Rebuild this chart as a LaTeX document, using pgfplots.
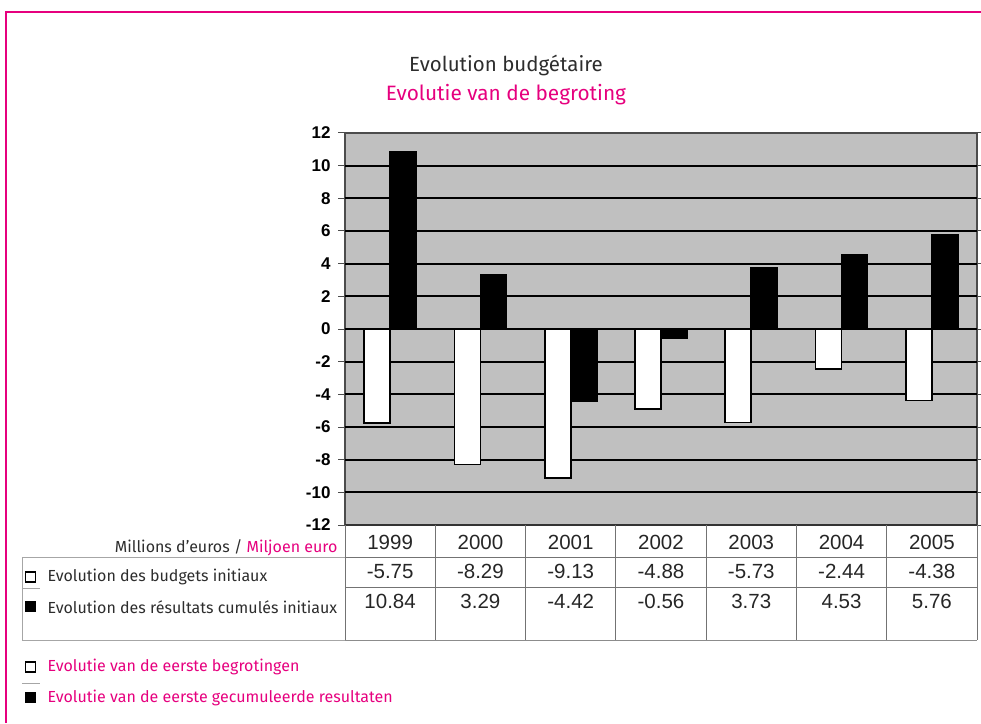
\documentclass[border=0pt]{standalone}
\usepackage{pgfplots}
\usepackage{pgfplotstable}
\usepackage{fontspec}
\pgfplotsset{compat=1.18}
\setmainfont{Fira Sans}
\newfontfamily\arialf{Liberation Sans}
\definecolor{mag}{RGB}{230,0,126}
\definecolor{plotbg}{RGB}{192,192,192}
\definecolor{txt}{RGB}{45,45,45}
\pgfplotstableread{
x a b
0 -5.75 10.84
1 -8.29 3.29
2 -9.13 -4.42
3 -4.88 -0.56
4 -5.73 3.73
5 -2.44 4.53
6 -4.38 5.76
}\budget
\begin{document}
\begin{tikzpicture}[x=1pt,y=1pt]
\begin{axis}[
  name=ax,
  scale only axis, width=632pt, height=392pt,
  xmin=-0.5, xmax=6.5, ymin=-12, ymax=12,
  ytick={-12,-10,...,12},
  xtick={0,...,6},
  xticklabels={1999,2000,2001,2002,2003,2004,2005},
  xticklabel style={font=\arialf\fontsize{20.5}{21}\selectfont, text=black!85, yshift=0pt},
  x tick style={draw=none},
  yticklabel style={font=\arialf\bfseries\fontsize{17}{18}\selectfont, text=black, xshift=-4pt},
  /pgf/number format/assume math mode=true,
  y tick style={draw=black!70, line width=1pt},
  tick align=outside, major tick length=7pt,
  axis background/.style={fill=plotbg},
  axis line style={draw=black!70, line width=1.5pt},
  grid=none,
  clip=false,
]
\coordinate (SW) at (rel axis cs:0,0);
% grid lines
\pgfplotsinvokeforeach{-10,-8,...,10}{
  \draw[black, line width=2pt] (axis cs:-0.5,#1) -- (axis cs:6.5,#1);
}
\draw[black!80, line width=2pt] (axis cs:-0.5,-12) -- (axis cs:6.5,-12);
\draw[black!70, line width=2pt] (axis cs:-0.5,12) -- (axis cs:6.5,12);
\addplot[ybar, bar width=26pt, bar shift=-13pt, fill=white, draw=black, line width=1.8pt] table[x=x, y=a] {\budget};
\addplot[ybar, bar width=26pt, bar shift=13pt, fill=black, draw=black, line width=1.8pt] table[x=x, y=b] {\budget};
% table
\draw[black!55, line width=0.8pt] (axis cs:-0.5,-13.96) -- (axis cs:6.5,-13.96);
\draw[black!55, line width=0.8pt] (axis cs:-0.5,-15.8) -- (axis cs:6.5,-15.8);
\draw[black!45, line width=0.8pt] (axis cs:-0.5,-19.04) -- (axis cs:6.5,-19.04);
\pgfplotsinvokeforeach{-0.5,0.5,...,6.5}{
  \draw[black!55, line width=0.8pt] (axis cs:#1,-12) -- (axis cs:#1,-19.04);
}
\addplot[draw=none, mark=none, forget plot, nodes near coords, point meta=explicit symbolic,
  every node near coord/.style={anchor=center, font=\arialf\fontsize{20.5}{21}\selectfont, text=black!85}]
  table[x=x, y expr=-14.85, meta=a] {\budget};
\addplot[draw=none, mark=none, forget plot, nodes near coords, point meta=explicit symbolic,
  every node near coord/.style={anchor=center, font=\arialf\fontsize{20.5}{21}\selectfont, text=black!85}]
  table[x=x, y expr=-16.65, meta=b] {\budget};
\end{axis}
\begin{scope}[shift={(SW)}, xshift=-345pt, yshift=-198pt]
\pgfresetboundingbox
\path[use as bounding box] (0,0) rectangle (981,723);
% frame
\draw[mag, line width=2pt] (6,0) -- (6,711) -- (981,711);
% titles
\node[txt, font=\fontsize{20.5}{22}\selectfont] at (506,658) {Evolution budgétaire};
\node[mag, font=\fontsize{20.8}{22}\selectfont] at (506,628) {Evolutie van de begroting};
% left table part
\draw[black!35, line width=0.8pt] (22,166) -- (345,166);
\draw[black!35, line width=0.8pt] (22,166) -- (22,83);
\draw[black!35, line width=0.8pt] (22,135) -- (40,135);
\draw[black!35, line width=0.8pt] (22,83) -- (345,83);
\node[anchor=east, txt, font=\fontsize{16}{17}\selectfont] at (341,175) {Millions d’euros / \textcolor{mag}{Miljoen euro}};
\draw[black, line width=1.3pt, fill=white] (25.5,141) rectangle (35.5,151);
\node[anchor=west, txt, font=\fontsize{16}{17}\selectfont] at (44,146) {Evolution des budgets initiaux};
\fill[black] (25,111) rectangle (36,122);
\node[anchor=west, txt, font=\fontsize{16}{17}\selectfont] at (44,116) {Evolution des résultats cumulés initiaux};
% bottom legend
\draw[black, line width=1.3pt, fill=white] (25.5,51) rectangle (35.5,61);
\node[anchor=west, mag, font=\fontsize{16}{17}\selectfont] at (44,56) {Evolutie van de eerste begrotingen};
\draw[black!35, line width=0.8pt] (22,40) -- (40,40);
\fill[black] (25,20) rectangle (36,31);
\node[anchor=west, mag, font=\fontsize{16}{17}\selectfont] at (44,25) {Evolutie van de eerste gecumuleerde resultaten};
\end{scope}
\end{tikzpicture}
\end{document}
